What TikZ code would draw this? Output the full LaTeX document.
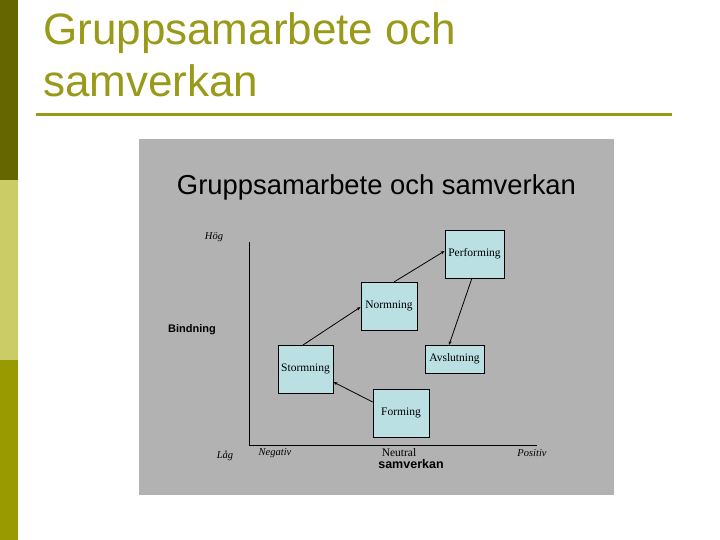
\documentclass[tikz,border=0pt]{standalone}
\usepackage{fontspec}
\setmainfont{Liberation Serif}
\newfontfamily\arialf{Liberation Sans}
\usetikzlibrary{arrows.meta}
\definecolor{olivedark}{RGB}{102,102,0}
\definecolor{olivelight}{RGB}{204,204,102}
\definecolor{olivemid}{RGB}{153,153,0}
\definecolor{titleol}{RGB}{153,153,26}
\definecolor{panelgray}{RGB}{178,178,178}
\definecolor{boxblue}{RGB}{187,224,228}
\tikzset{
  stagebox/.style={draw=black, line width=0.8pt, fill=boxblue, minimum width=#1, inner sep=0pt, font=\fontsize{11.5}{13}\selectfont},
  flow/.style={draw=black, line width=0.8pt, -{Stealth[length=4pt,width=3pt]}},
  axislbl/.style={font=\fontsize{10.5}{12}\selectfont\itshape, inner sep=0pt},
}
\begin{document}
\begin{tikzpicture}[x=1pt,y=-1pt]
\useasboundingbox (0,0) rectangle (720,540);
\fill[white] (0,0) rectangle (720,540);
% left bar
\fill[olivedark] (0,0) rectangle (18,180);
\fill[olivelight] (0,180) rectangle (18,360);
\fill[olivemid] (0,360) rectangle (18,540);
% title
\node[anchor=base west, inner sep=0pt, text=titleol, font=\arialf\fontsize{44}{52}\selectfont] (t1) at (43,45) {Gruppsamarbete och};
\node[anchor=base west, inner sep=0pt, text=titleol, font=\arialf\fontsize{44}{52}\selectfont] (t2) at (43,97) {samverkan};
\draw[titleol, line width=3pt] (36,114.5) -- (672,114.5);
% panel
\fill[panelgray] (139,139) rectangle (614,495);
\node[anchor=base, inner sep=0pt, font=\arialf\fontsize{27.4}{30}\selectfont] (it) at (376.5,195) {Gruppsamarbete och samverkan};
% axes
\coordinate (ytop) at (249.5,242);
\coordinate (orig) at (249.5,445);
\coordinate (xend) at (537,445);
\draw[line width=0.8pt] (ytop) -- (orig) -- (xend);
% boxes
\node[stagebox=59pt, minimum height=48pt] (perf) at (474.5,254) {Performing};
\node[stagebox=56pt, minimum height=48pt] (norm) at (389,306) {Normning};
\node[stagebox=55pt, minimum height=48pt] (storm) at (305.5,369) {Stormning};
\node[stagebox=59pt, minimum height=28pt] (avsl) at (454.5,359) {Avslutning};
\node[stagebox=56pt, minimum height=48pt] (form) at (401,413) {Forming};
% arrows
\draw[flow] (form.west |- 0,402) -- (storm.east |- 0,382);
\draw[flow] (303,345) -- (norm.west |- 0,307);
\draw[flow] (394,282) -- (perf.west |- 0,251);
\draw[flow] (472,278) -- (449,345);
% labels
\node[axislbl] (hog) at (214,237) {Hög};
\node[axislbl] (lag) at (225,456) {Låg};
\node[axislbl] (neg) at (275,453) {Negativ};
\node[inner sep=0pt, font=\fontsize{11.5}{12}\selectfont] (neu) at (399,453) {Neutral};
\node[axislbl] (pos) at (532,453) {Positiv};
\node[inner sep=0pt, font=\arialf\bfseries\fontsize{11}{12}\selectfont] (bind) at (192,330) {Bindning};
\node[inner sep=0pt, font=\arialf\bfseries\fontsize{12.5}{12}\selectfont] (samv) at (411,464) {samverkan};
\end{tikzpicture}
\end{document}
